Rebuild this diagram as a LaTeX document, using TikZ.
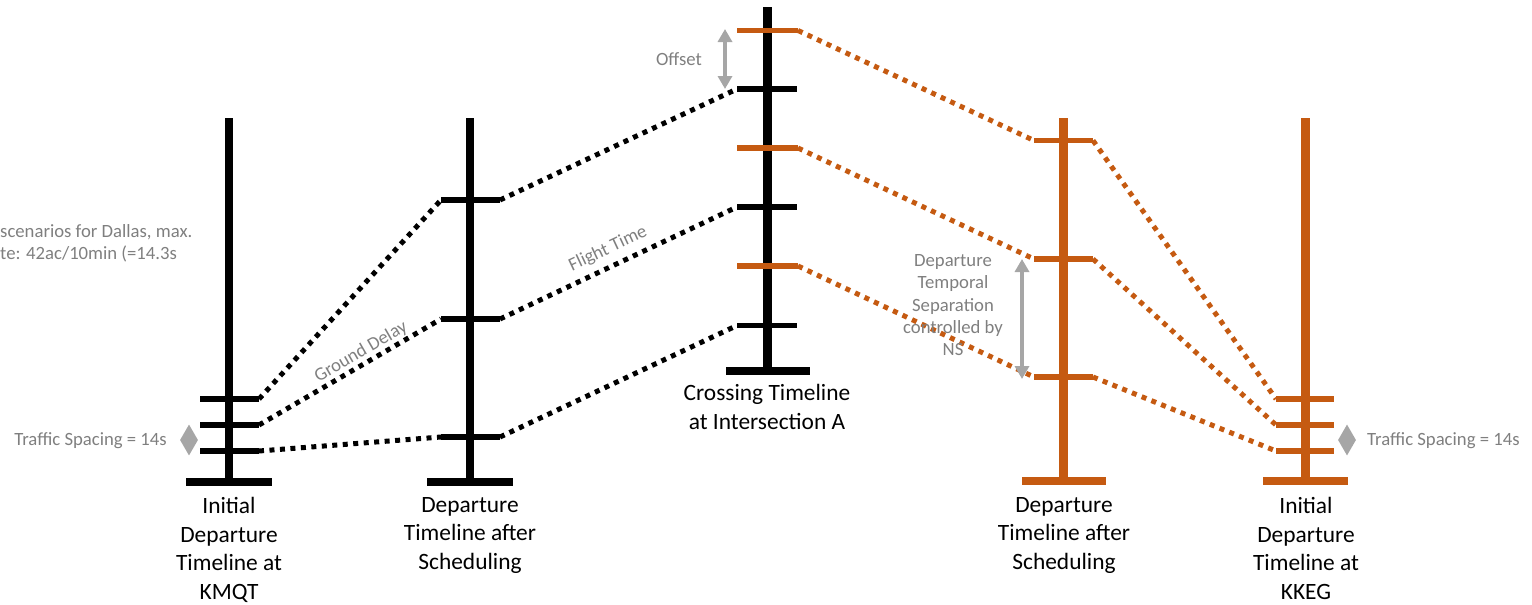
\documentclass[tikz,border=0pt]{standalone}
\usepackage{fontspec}
\setmainfont{Carlito}
\usetikzlibrary{arrows.meta,shapes.geometric}
\definecolor{orng}{HTML}{C55A11}
\definecolor{gtext}{HTML}{7F7F7F}
\definecolor{garrow}{HTML}{A6A6A6}
\begin{document}
\begin{tikzpicture}[x=1pt,y=-1pt,
  axis/.style={line width=8.5pt},
  basebar/.style={line width=8pt},
  tickline/.style={line width=5.5pt},
  dotline/.style={line width=5pt, dash pattern=on 5pt off 5.5pt},
  biglabel/.style={font=\fontsize{23.4}{28.7}\selectfont, align=center, inner sep=0pt, anchor=north},
  graylabel/.style={text=gtext, font=\fontsize{18.7}{22.4}\selectfont, inner sep=0pt},
  grayarrow/.style={draw=garrow, line width=4.8pt, {Triangle[width=14pt,length=13pt]}-{Triangle[width=14pt,length=13pt]}},
  spacer/.style={diamond, fill=garrow, inner sep=0pt, minimum width=18pt, minimum height=31pt}]
\useasboundingbox (0,0) rectangle (1532,605);

% ---------- Timeline 1 (KMQT) ----------
\coordinate (t1top) at (229,118); \coordinate (t1bot) at (229,482);
\coordinate (t1bl) at (186,482); \coordinate (t1br) at (272,482);
\coordinate (t1aL) at (200,399); \coordinate (t1aR) at (259,399);
\coordinate (t1bL) at (200,425); \coordinate (t1bR) at (259,425);
\coordinate (t1cL) at (200,451); \coordinate (t1cR) at (259,451);
\draw[axis] (t1top) -- (t1bot);
\draw[basebar] (t1bl) -- (t1br);
\draw[tickline] (t1aL) -- (t1aR);
\draw[tickline] (t1bL) -- (t1bR);
\draw[tickline] (t1cL) -- (t1cR);

% ---------- Timeline 2 ----------
\coordinate (t2top) at (470,118); \coordinate (t2bot) at (470,482);
\coordinate (t2bl) at (427,482); \coordinate (t2br) at (513,482);
\coordinate (t2aL) at (441,200); \coordinate (t2aR) at (500,200);
\coordinate (t2bL) at (441,319); \coordinate (t2bR) at (500,319);
\coordinate (t2cL) at (441,437); \coordinate (t2cR) at (500,437);
\draw[axis] (t2top) -- (t2bot);
\draw[basebar] (t2bl) -- (t2br);
\draw[tickline] (t2aL) -- (t2aR);
\draw[tickline] (t2bL) -- (t2bR);
\draw[tickline] (t2cL) -- (t2cR);

% ---------- Timeline 3 (crossing) ----------
\coordinate (t3top) at (767.5,7); \coordinate (t3bot) at (767.5,371);
\coordinate (t3bl) at (726,371); \coordinate (t3br) at (810,371);
\coordinate (t3aL) at (737,89); \coordinate (t3aR) at (797,89);
\coordinate (t3bL) at (737,207); \coordinate (t3bR) at (797,207);
\coordinate (t3cL) at (737,325.5); \coordinate (t3cR) at (797,325.5);
\coordinate (t3oaL) at (737,30.5); \coordinate (t3oaR) at (798,30.5);
\coordinate (t3obL) at (737,148); \coordinate (t3obR) at (798,148);
\coordinate (t3ocL) at (737,266); \coordinate (t3ocR) at (798,266);
\draw[axis] (t3top) -- (t3bot);
\draw[basebar] (t3bl) -- (t3br);
\draw[tickline] (t3aL) -- (t3aR);
\draw[tickline] (t3bL) -- (t3bR);
\draw[tickline] (t3cL) -- (t3cR);
\draw[tickline, orng] (t3oaL) -- (t3oaR);
\draw[tickline, orng] (t3obL) -- (t3obR);
\draw[tickline, orng] (t3ocL) -- (t3ocR);

% ---------- Timeline 4 (orange) ----------
\coordinate (t4top) at (1063.5,118); \coordinate (t4bot) at (1063.5,481);
\coordinate (t4bl) at (1022,481); \coordinate (t4br) at (1106,481);
\coordinate (t4aL) at (1034,140.5); \coordinate (t4aR) at (1093,140.5);
\coordinate (t4bL) at (1034,259); \coordinate (t4bR) at (1093,259);
\coordinate (t4cL) at (1034,377); \coordinate (t4cR) at (1093,377);
\begin{scope}[orng]
\draw[axis] (t4top) -- (t4bot);
\draw[basebar] (t4bl) -- (t4br);
\draw[tickline] (t4aL) -- (t4aR);
\draw[tickline] (t4bL) -- (t4bR);
\draw[tickline] (t4cL) -- (t4cR);
\end{scope}

% ---------- Timeline 5 (KKEG) ----------
\coordinate (t5top) at (1305.5,118); \coordinate (t5bot) at (1305.5,481);
\coordinate (t5bl) at (1263,481); \coordinate (t5br) at (1348,481);
\coordinate (t5aL) at (1276,399); \coordinate (t5aR) at (1334,399);
\coordinate (t5bL) at (1276,425); \coordinate (t5bR) at (1334,425);
\coordinate (t5cL) at (1276,451); \coordinate (t5cR) at (1334,451);
\begin{scope}[orng]
\draw[axis] (t5top) -- (t5bot);
\draw[basebar] (t5bl) -- (t5br);
\draw[tickline] (t5aL) -- (t5aR);
\draw[tickline] (t5bL) -- (t5bR);
\draw[tickline] (t5cL) -- (t5cR);
\end{scope}

% ---------- dotted connectors ----------
\draw[dotline] (t1aR) -- (t2aL);
\draw[dotline] (t1bR) -- (t2bL);
\draw[dotline] (t1cR) -- (t2cL);
\draw[dotline] (t2aR) -- (t3aL);
\draw[dotline] (t2bR) -- (t3bL);
\draw[dotline] (t2cR) -- (t3cL);
\draw[dotline, orng] (t3oaR) -- (t4aL);
\draw[dotline, orng] (t3obR) -- (t4bL);
\draw[dotline, orng] (t3ocR) -- (t4cL);
\draw[dotline, orng] (t4aR) -- (t5aL);
\draw[dotline, orng] (t4bR) -- (t5bL);
\draw[dotline, orng] (t4cR) -- (t5cL);

% ---------- gray arrows and spacers ----------
\coordinate (offTop) at (725,29); \coordinate (offBot) at (725,89);
\draw[grayarrow] (offTop) -- (offBot);
\coordinate (sepTop) at (1022,259); \coordinate (sepBot) at (1022,379);
\draw[grayarrow] (sepTop) -- (sepBot);
\node[spacer] (spL) at (189,440) {};
\node[spacer] (spR) at (1347,440) {};

% ---------- gray labels ----------
\node[graylabel] (offset) at (679,59) {Offset};
\node[graylabel, rotate=30] (gdelay) at (361,352) {Ground Delay};
\node[graylabel, rotate=25] (ftime) at (608,249) {Flight Time};
\node[graylabel, align=center, anchor=north] (depsep) at (953,254)
  {Departure\\Temporal\\Separation\\controlled by\\NS};
\node[graylabel, anchor=base east] (tsL) at (167,445) {Traffic Spacing = 14s};
\node[graylabel, anchor=base west] (tsR) at (1367,445) {Traffic Spacing = 14s};
\node[graylabel, align=left, anchor=north west] (scen) at (0,224)
  {scenarios for Dallas, max.\\te: 42ac/10min (=14.3s};

% ---------- black labels ----------
\node[biglabel] (l1) at (229,497) {Initial\\Departure\\Timeline at\\KMQT};
\node[biglabel] (l2) at (470,497) {Departure\\Timeline after\\Scheduling};
\node[biglabel] (l3) at (767,384) {Crossing Timeline\\at Intersection A};
\node[biglabel] (l4) at (1064,497) {Departure\\Timeline after\\Scheduling};
\node[biglabel] (l5) at (1306,497) {Initial\\Departure\\Timeline at\\KKEG};
\end{tikzpicture}
\end{document}
